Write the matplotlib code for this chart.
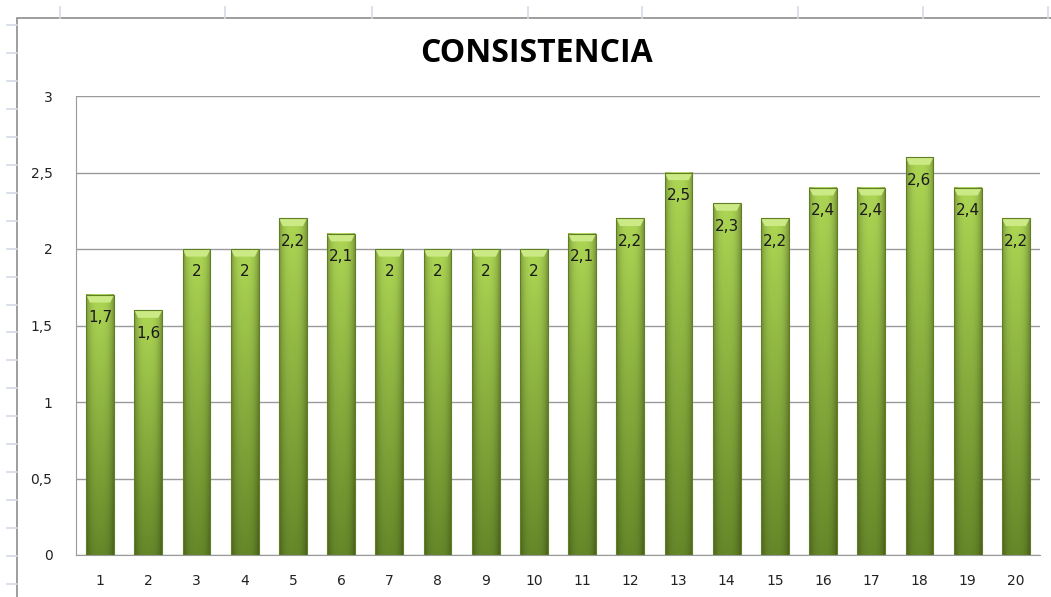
import matplotlib.pyplot as plt
import numpy as np
from matplotlib.patches import Rectangle, Polygon

categorias = [str(i) for i in range(1, 21)]
valores = [1.7, 1.6, 2, 2, 2.2, 2.1, 2, 2, 2, 2,
           2.1, 2.2, 2.5, 2.3, 2.2, 2.4, 2.4, 2.6, 2.4, 2.2]
etiquetas_y = ['0', '0,5', '1', '1,5', '2', '2,5', '3']

fig = plt.figure(figsize=(10.51, 5.97), dpi=100)

# spreadsheet frame behind the chart
W, H = 1051, 597
for x in [60, 225, 372, 528, 642, 798, 923, 1048]:
    fig.add_artist(plt.Line2D([x / W, x / W], [1 - 7 / H, 1 - 18 / H], color='#d5dae6', lw=1.2))
for y in np.arange(25, 597, 27.95):
    fig.add_artist(plt.Line2D([7 / W, 17 / W], [1 - y / H, 1 - y / H], color='#d5dae6', lw=1.2))
fig.add_artist(Rectangle((17 / W, -0.1), 1.2, 1 - 18 / H + 0.1, fill=False,
                         ec='#8c8c8c', lw=1.2, transform=fig.transFigure))

ax = fig.add_axes([76 / W, 1 - 555 / H, (1040 - 76) / W, (555 - 96) / H])
x = np.arange(1, 21)
ancho = 0.58
ax.set_xlim(0.5, 20.5)
ax.set_ylim(0, 3)

# gradient image for the bars
ny, nx = 100, 40
yy = np.linspace(0, 1, ny)[:, None]
xx = np.linspace(-1, 1, nx)[None, :]
top = np.array([0.68, 0.84, 0.33])
bot = np.array([0.40, 0.53, 0.16])
base = bot + (top - bot) * yy[..., None]
shade = 1 - 0.28 * np.abs(xx) ** 3
img = np.clip(base * shade[..., None], 0, 1)

for xi, v in zip(x, valores):
    x0, x1 = xi - ancho / 2, xi + ancho / 2
    ax.imshow(img, extent=(x0, x1, 0, v), origin='lower', aspect='auto',
              zorder=2, interpolation='bilinear')
    bev = 0.05
    ax.add_patch(Polygon([(x0, v), (x1, v), (x1 - 0.08, v - bev), (x0 + 0.08, v - bev)],
                         closed=True, fc='#cbe985', ec='none', zorder=3))
    ax.text(xi, v - 0.15, f'{v:g}'.replace('.', ','), ha='center', va='center',
            fontsize=11, color='#1a1a1a', zorder=4)

ax.bar(x, valores, width=ancho, fc='none', ec='#5f7f25', lw=0.8, zorder=3)

ax.set_yticks(np.arange(0, 3.01, 0.5))
ax.set_yticklabels(etiquetas_y)
ax.set_xticks(x)
ax.set_xticklabels(categorias)
ax.tick_params(length=0, labelsize=10, colors='#222222')
ax.tick_params(axis='y', pad=17)
ax.tick_params(axis='x', pad=14)
ax.grid(axis='y', color='#9a9a9a', lw=1)
ax.set_axisbelow(True)
for s in ['top', 'right']:
    ax.spines[s].set_visible(False)
ax.spines['left'].set_color('#9a9a9a')
ax.spines['bottom'].set_color('#9a9a9a')

fig.text(536 / W, 1 - 54 / H, 'CONSISTENCIA', ha='center', va='center',
         fontsize=23, fontweight='bold', family='Open Sans')

fig.savefig('out.png', dpi=100)
